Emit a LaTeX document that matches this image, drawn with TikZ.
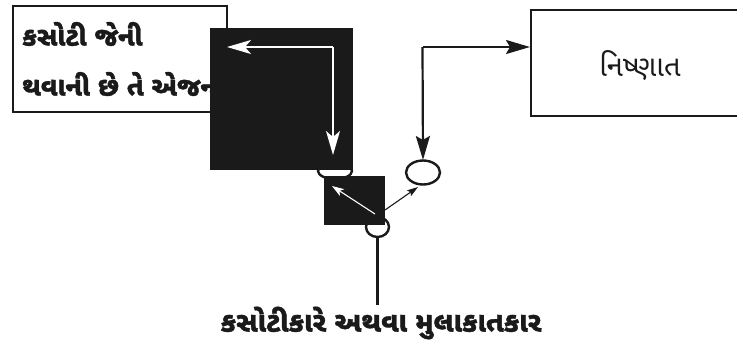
\documentclass[tikz,border=0pt]{standalone}
\usepackage{fontspec}
\newfontfamily\guj[Script=Gujarati,BoldFeatures={FakeBold=1.3}]{Noto Sans Gujarati UI}
\usetikzlibrary{arrows.meta}
\definecolor{ink}{HTML}{1A1A1A}
\begin{document}
\begin{tikzpicture}[x=1pt,y=-1pt,
  frame/.style={draw=ink,line width=2.4pt},
  blk/.style={fill=ink,draw=none},
  port/.style={draw=ink,line width=2.4pt,fill=white},
  lbl/.style={font=\guj\bfseries\fontsize{26.5}{30}\selectfont,text=ink,inner sep=0pt,anchor=west},
  warr/.style={draw=white,line width=1.6pt,-{Stealth[length=24pt,width=14pt,inset=6pt,fill=white]}},
  barr/.style={draw=ink,line width=2.2pt,-{Stealth[length=24pt,width=14pt,inset=4pt,fill=ink]}},
  tarr/.style={draw=ink,line width=1.1pt,-{Stealth[length=11pt,width=7pt,inset=2pt,fill=ink]}}]
\useasboundingbox (0,0) rectangle (737,346);
\clip (0,0) rectangle (737,346);
% left box
\node[frame,minimum width=214pt,minimum height=106pt,anchor=north west,inner sep=0pt] (agent) at (12,5) {};
\node[lbl] (t1) at (22,34) {કસોટી જેની};
\node[lbl] (t2) at (22,84) {થવાની છે તે એજન્ટ};
% right box
\node[frame,minimum width=220pt,minimum height=106pt,anchor=north west,inner sep=0pt] (expert) at (530,9) {};
\node[font=\guj\fontsize{29}{32}\selectfont,text=ink,inner sep=0pt] (tx) at (640,66) {નિષ્ણાત};
% ports behind squares
\draw[port] (335,171) ellipse (17pt and 8pt);
\coordinate (p1) at (335,171);
\draw[port] (377.5,227) ellipse (11.5pt and 10pt);
\coordinate (p2) at (377.5,227);
% big square
\node[blk,minimum width=143pt,minimum height=142pt,anchor=north west,inner sep=0pt] (big) at (210,28) {};
% small square
\node[blk,minimum width=61pt,minimum height=49pt,anchor=north west,inner sep=0pt] (small) at (324,176) {};
% right port
\draw[port] (423,172.5) ellipse (17pt and 12pt);
\coordinate (p3top) at (423,160);
\coordinate (p3) at (423,172.5);
% white arrows in big square
\coordinate (c1) at (333,47);
\coordinate (a1) at (227,47);
\coordinate (a2) at (333,155);
\draw[warr] (c1) -- (a1);
\draw[warr] (c1) -- (a2);
% white arrow in small square
\coordinate (s1) at (375,214);
\coordinate (s2) at (332,186);
\draw[draw=white,line width=1.1pt,-{Stealth[length=12pt,width=8pt,inset=3pt,fill=white]}] (s1) -- (s2);
% thin black arrow
\coordinate (s3) at (385,210);
\coordinate (s4) at (418,187);
\draw[tarr] (s3) -- (s4);
% connector to expert
\coordinate (k) at (422.5,47);
\draw[barr] (k) -- (expert.west |- k);
\draw[barr] (k) -- (p3top);
% bottom line and label
\coordinate (p2b) at (377.5,237);
\coordinate (q) at (377.5,305);
\draw[draw=ink,line width=2.2pt] (p2b) -- (q);
\node[font=\guj\bfseries\fontsize{28}{32}\selectfont,text=ink,inner sep=0pt] (bl) at (381,323) {કસોટીકારે અથવા મુલાકાતકાર};
\end{tikzpicture}
\end{document}
